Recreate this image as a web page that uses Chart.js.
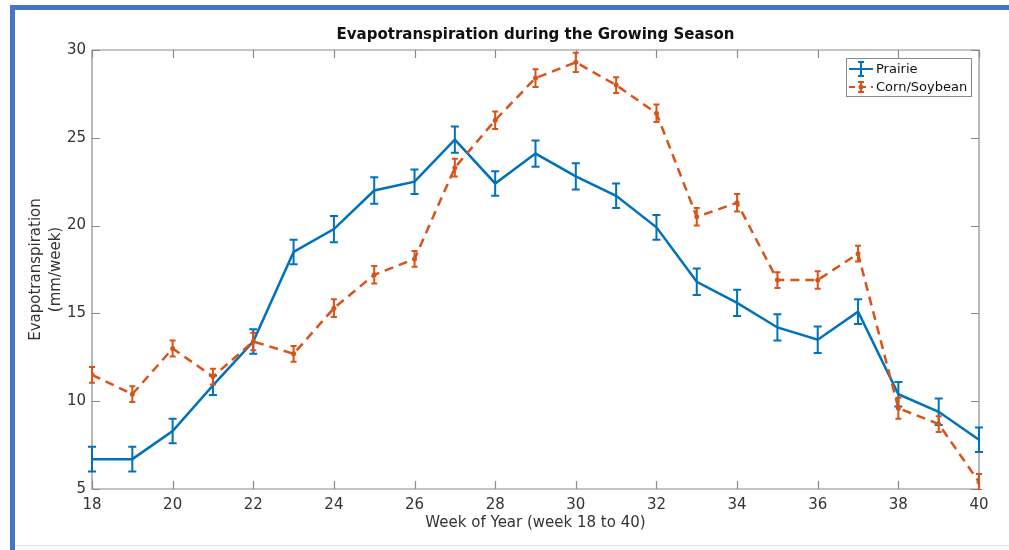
<!DOCTYPE html>
<html>
<head>
<meta charset="utf-8">
<title>Evapotranspiration during the Growing Season</title>
<script src="https://cdn.jsdelivr.net/npm/chart.js@4.4.1/dist/chart.umd.min.js"></script>
<style>
  html, body { margin: 0; padding: 0; background: #ffffff; }
  #wrap { position: relative; width: 1009px; height: 550px; overflow: hidden; background: #ffffff; }
  #frameTop { position: absolute; left: 10px; top: 5px; width: 999px; height: 5px; background: #4673c8; }
  #frameLeft { position: absolute; left: 10px; top: 5px; width: 5px; height: 545px; background: #4673c8; }
  #frameBottom { position: absolute; left: 15px; top: 545px; width: 994px; height: 1px; background: #e4e4e4; }
  #chart { position: absolute; left: 0; top: 0; }
</style>
</head>
<body>
<div id="wrap">
  <canvas id="chart" width="1009" height="550"></canvas>
  <div id="frameTop"></div>
  <div id="frameLeft"></div>
  <div id="frameBottom"></div>
</div>
<script>
// Week of year (x values)
const weeks = [18, 19, 20, 21, 22, 23, 24, 25, 26, 27, 28, 29, 30, 31, 32, 33, 34, 35, 36, 37, 38, 39, 40];

// Weekly evapotranspiration, mm/week, with error-bar half widths
const prairieET  = [6.7, 6.7, 8.3, 10.9, 13.4, 18.5, 19.8, 22.0, 22.5, 24.9, 22.4, 24.1, 22.8, 21.7, 19.9, 16.8, 15.6, 14.2, 13.5, 15.1, 10.4, 9.4, 7.8];
const prairieErr = [0.7, 0.7, 0.7, 0.55, 0.7, 0.7, 0.75, 0.75, 0.7, 0.75, 0.7, 0.75, 0.75, 0.7, 0.7, 0.75, 0.75, 0.75, 0.75, 0.7, 0.7, 0.75, 0.7];
const cornSoyET  = [11.5, 10.4, 13.0, 11.4, 13.4, 12.7, 15.3, 17.2, 18.1, 23.3, 26.0, 28.4, 29.3, 28.0, 26.4, 20.5, 21.3, 16.9, 16.9, 18.4, 9.6, 8.7, 5.4];
const cornSoyErr = [0.45, 0.45, 0.45, 0.45, 0.5, 0.45, 0.5, 0.5, 0.45, 0.5, 0.5, 0.5, 0.55, 0.45, 0.5, 0.5, 0.5, 0.45, 0.5, 0.45, 0.6, 0.45, 0.45];

// Axis ticks
const xTicks = [18, 20, 22, 24, 26, 28, 30, 32, 34, 36, 38, 40];
const yTicks = [5, 10, 15, 20, 25, 30];

const seriesNames = ['Prairie', 'Corn/Soybean'];
const BLUE = '#0072BD';
const ORANGE = '#D95319';
const AXIS = '#8a8a8a';
const TEXT = '#333333';
const FONT = '"DejaVu Sans", sans-serif';

function toPoints(values) {
  return weeks.map((w, i) => ({ x: w, y: values[i] }));
}

const errors = [prairieErr, cornSoyErr];

// Vertical error bars with caps, drawn right after each dataset's line
const errorBars = {
  id: 'errorBars',
  afterDatasetDraw(chart, args) {
    const ds = chart.data.datasets[args.index];
    const err = errors[args.index];
    const xs = chart.scales.x, ys = chart.scales.y, area = chart.chartArea;
    const ctx = chart.ctx;
    const cap = args.index === 0 ? 4 : 3;
    ctx.save();
    ctx.beginPath();
    ctx.rect(area.left - 6, area.top - 1, area.right - area.left + 12, area.bottom - area.top + 2);
    ctx.clip();
    ctx.strokeStyle = ds.borderColor;
    ctx.lineWidth = 2;
    ctx.setLineDash([]);
    ds.data.forEach((p, i) => {
      const x = xs.getPixelForValue(p.x);
      const yHi = ys.getPixelForValue(p.y + err[i]);
      const yLo = ys.getPixelForValue(p.y - err[i]);
      ctx.beginPath();
      ctx.moveTo(x, yHi); ctx.lineTo(x, yLo);
      ctx.moveTo(x - cap, yHi); ctx.lineTo(x + cap, yHi);
      ctx.moveTo(x - cap, yLo); ctx.lineTo(x + cap, yLo);
      ctx.stroke();
    });
    ctx.restore();
  }
};

// Boxed axes with inward tick marks on all four sides
const boxAxes = {
  id: 'boxAxes',
  beforeDatasetsDraw(chart) {
    const { ctx, chartArea: a, scales: { x, y } } = chart;
    const len = 8;
    ctx.save();
    ctx.strokeStyle = AXIS;
    ctx.lineWidth = 1.2;
    ctx.beginPath();
    ctx.rect(a.left, a.top, a.right - a.left, a.bottom - a.top);
    xTicks.forEach(v => {
      const px = Math.round(x.getPixelForValue(v)) + 0.5;
      ctx.moveTo(px, a.bottom); ctx.lineTo(px, a.bottom - len);
      ctx.moveTo(px, a.top); ctx.lineTo(px, a.top + len);
    });
    yTicks.forEach(v => {
      const py = Math.round(y.getPixelForValue(v)) + 0.5;
      ctx.moveTo(a.left, py); ctx.lineTo(a.left + len, py);
      ctx.moveTo(a.right, py); ctx.lineTo(a.right - len, py);
    });
    ctx.stroke();
    ctx.restore();
  }
};

// Title, axis titles and the boxed legend
const annotations = {
  id: 'annotations',
  afterDraw(chart) {
    const { ctx, chartArea: a } = chart;
    const cx = (a.left + a.right) / 2;
    ctx.save();
    ctx.fillStyle = '#111111';
    ctx.textAlign = 'center';
    ctx.textBaseline = 'middle';
    ctx.font = 'bold 15px ' + FONT;
    ctx.fillText('Evapotranspiration during the Growing Season', cx, 35);

    ctx.fillStyle = TEXT;
    ctx.font = '15px ' + FONT;
    ctx.fillText('Week of Year (week 18 to 40)', cx, 523);

    ctx.save();
    ctx.translate(36, (a.top + a.bottom) / 2);
    ctx.rotate(-Math.PI / 2);
    ctx.fillText('Evapotranspiration', 0, 0);
    ctx.fillText('(mm/week)', 0, 20);
    ctx.restore();

    // legend
    const lx = 846, ly = 58, lw = 125, lh = 38;
    ctx.fillStyle = '#ffffff';
    ctx.fillRect(lx, ly, lw, lh);
    ctx.strokeStyle = AXIS;
    ctx.lineWidth = 1;
    ctx.strokeRect(lx + 0.5, ly + 0.5, lw, lh);

    const rows = [69, 87];
    const colors = [BLUE, ORANGE];
    ctx.textAlign = 'left';
    ctx.font = '13px ' + FONT;
    rows.forEach((ry, i) => {
      ctx.strokeStyle = colors[i];
      ctx.lineWidth = 2;
      ctx.setLineDash(i === 1 ? [6, 5] : []);
      ctx.beginPath();
      ctx.moveTo(849, ry); ctx.lineTo(873, ry);
      ctx.stroke();
      ctx.setLineDash([]);
      const h = i === 0 ? 7 : 5, c = 3;
      ctx.beginPath();
      ctx.moveTo(861, ry - h); ctx.lineTo(861, ry + h);
      ctx.moveTo(861 - c, ry - h); ctx.lineTo(861 + c, ry - h);
      ctx.moveTo(861 - c, ry + h); ctx.lineTo(861 + c, ry + h);
      ctx.stroke();
      if (i === 1) {
        ctx.fillStyle = ORANGE;
        ctx.beginPath();
        ctx.arc(861, ry, 2.5, 0, Math.PI * 2);
        ctx.fill();
      }
      ctx.fillStyle = '#111111';
      ctx.fillText(seriesNames[i], 876, ry + 0.5);
    });
    ctx.restore();
  }
};

new Chart(document.getElementById('chart'), {
  type: 'line',
  data: {
    datasets: [
      {
        label: seriesNames[0],
        data: toPoints(prairieET),
        borderColor: BLUE,
        backgroundColor: BLUE,
        borderWidth: 2.5,
        pointRadius: 0,
        tension: 0,
        fill: false,
        order: 1
      },
      {
        label: seriesNames[1],
        data: toPoints(cornSoyET),
        borderColor: ORANGE,
        backgroundColor: ORANGE,
        borderWidth: 2.5,
        borderDash: [9, 6],
        pointRadius: 2.5,
        pointBorderWidth: 0,
        pointBackgroundColor: ORANGE,
        tension: 0,
        fill: false,
        order: 0
      }
    ]
  },
  options: {
    responsive: false,
    animation: false,
    devicePixelRatio: 1,
    layout: { padding: { left: 0, right: 30, top: 50, bottom: 0 } },
    plugins: {
      legend: { display: false },
      tooltip: { enabled: false },
      title: { display: false }
    },
    scales: {
      x: {
        type: 'linear',
        min: 18,
        max: 40,
        afterBuildTicks: s => { s.ticks = xTicks.map(v => ({ value: v })); },
        afterFit: s => { s.height = 61; },
        grid: { display: false, drawTicks: false },
        border: { display: false },
        ticks: { color: TEXT, font: { family: FONT, size: 15 }, padding: 7, maxRotation: 0, autoSkip: false }
      },
      y: {
        type: 'linear',
        min: 5,
        max: 30,
        afterBuildTicks: s => { s.ticks = yTicks.map(v => ({ value: v })); },
        afterFit: s => { s.width = 92; },
        grid: { display: false, drawTicks: false },
        border: { display: false },
        ticks: { color: TEXT, font: { family: FONT, size: 15 }, padding: 6 }
      }
    }
  },
  plugins: [boxAxes, errorBars, annotations]
});
</script>
</body>
</html>
